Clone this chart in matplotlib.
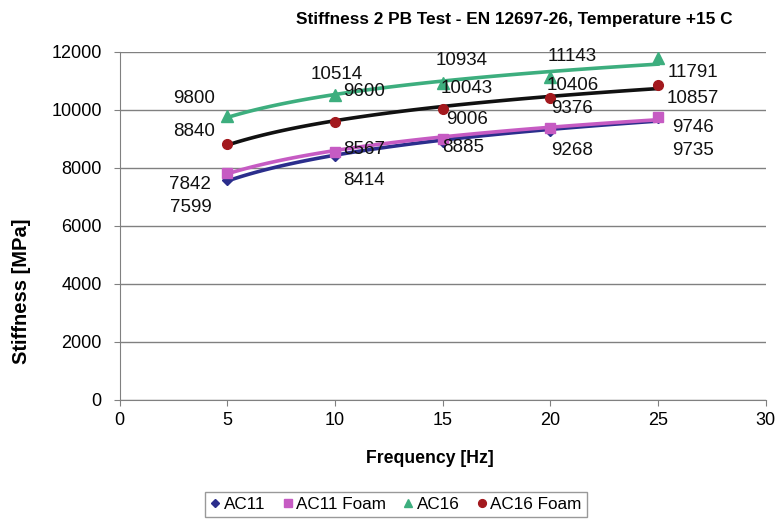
import numpy as np
import matplotlib.pyplot as plt

plt.rcParams['font.family'] = ['Liberation Sans', 'DejaVu Sans']

freq = [5, 10, 15, 20, 25]
ac11 = [7599, 8414, 8885, 9268, 9735]
ac11_foam = [7842, 8567, 9006, 9376, 9746]
ac16 = [9800, 10514, 10934, 11143, 11791]
ac16_foam = [8840, 9600, 10043, 10406, 10857]

names = ['AC11', 'AC11 Foam', 'AC16', 'AC16 Foam']
series = [ac11, ac11_foam, ac16, ac16_foam]
marker_colors = ['#2B2E8C', '#C65BC3', '#3DAE7E', '#A3191E']
line_colors = ['#2B2E8C', '#C65BC3', '#3DAE7E', '#111111']
markers = ['D', 's', '^', 'o']
msizes = [5, 7, 8, 7]

# label offsets in pixels (dx, dy)
offsets = [
    [(-37, -28), (29, -25), (20, -5), (22, -19), (35, -33)],
    [(-37, -12), (29, 2), (24, 19), (22, 20), (35, -10)],
    [(-33, 17), (2, 21), (19, 22), (22, 20), (35, -14)],
    [(-33, 12), (29, 30), (24, 20), (22, 13), (35, -13)],
]

fig = plt.figure(figsize=(7.78, 5.2), dpi=100)
ax = fig.add_axes([0.154, 0.231, 0.830, 0.669])

x = np.array(freq, dtype=float)
xs = np.linspace(5, 25, 100)
handles = []
for vals, name, mc, lc, m, ms, offs in zip(series, names, marker_colors,
                                           line_colors, markers, msizes, offsets):
    # logarithmic trendline
    a, b = np.polyfit(np.log(x), vals, 1)
    ax.plot(xs, a * np.log(xs) + b, color=lc, lw=2.6, zorder=3)
    h, = ax.plot(freq, vals, linestyle='none', marker=m, color=mc,
                 markersize=ms, zorder=4, label=name)
    handles.append(h)
    for xi, v, (dx, dy) in zip(freq, vals, offs):
        ax.annotate(str(v), (xi, v), xytext=(dx, dy), textcoords='offset pixels',
                    ha='center', va='center', fontsize=13.5, color='#111111', zorder=5)

ax.set_xlim(0, 30)
ax.set_ylim(0, 12000)
ax.set_xticks(range(0, 31, 5))
ax.set_yticks(range(0, 12001, 2000))
ax.grid(axis='y', color='#808080', lw=1)
ax.set_axisbelow(True)
for s in ['top', 'right']:
    ax.spines[s].set_visible(False)
for s in ['left', 'bottom']:
    ax.spines[s].set_color('#808080')
ax.tick_params(axis='both', labelsize=13, length=4, color='#808080')
ax.tick_params(axis='y', pad=9)
ax.tick_params(axis='x', pad=5)

fig.text(0.553, 0.119, 'Frequency [Hz]', ha='center', va='center',
         fontsize=12.7, fontweight='bold')
fig.text(0.027, 0.44, 'Stiffness [MPa]', ha='center', va='center',
         rotation=90, fontsize=14.5, fontweight='bold')
fig.text(0.661, 0.963, 'Stiffness 2 PB Test - EN 12697-26, Temperature +15 C',
         ha='center', va='center', fontsize=12.4, fontweight='bold')

leg = fig.legend(handles=handles, loc='center', bbox_to_anchor=(0.509, 0.03),
                 ncol=4, fontsize=12.3, frameon=True, fancybox=False,
                 handlelength=0.6, handletextpad=0.2, columnspacing=1.0,
                 borderpad=0.3, markerscale=0.8)
leg.get_frame().set_edgecolor('#808080')
leg.get_frame().set_linewidth(1)

fig.savefig('out.png', dpi=100)
